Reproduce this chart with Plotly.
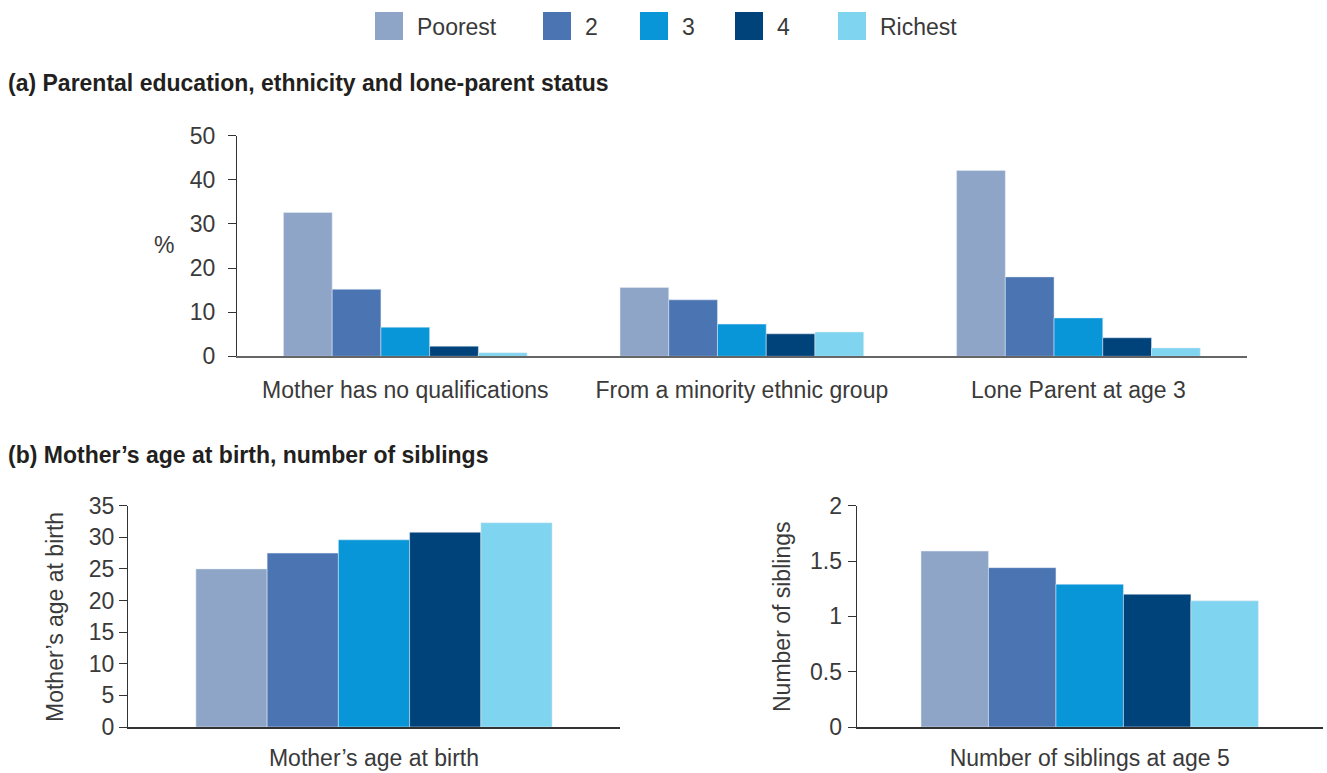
import plotly.graph_objects as go

W, H = 1327, 773

quintiles = ["Poorest", "2", "3", "4", "Richest"]
colors = ["#8FA5C8", "#4A74B2", "#0896D8", "#00427A", "#7FD4EF"]

categories_a = ["Mother has no qualifications", "From a minority ethnic group", "Lone Parent at age 3"]
poorest_a = [32.6, 15.6, 42.1]
q2_a = [15.2, 12.8, 18.0]
q3_a = [6.6, 7.3, 8.7]
q4_a = [2.3, 5.1, 4.2]
richest_a = [0.8, 5.5, 1.9]
values_a = [poorest_a, q2_a, q3_a, q4_a, richest_a]

category_age = ["Mother\u2019s age at birth"]
age_values = [25.0, 27.5, 29.6, 30.8, 32.3]

category_sib = ["Number of siblings at age 5"]
sib_values = [1.59, 1.44, 1.29, 1.20, 1.14]

FONT = "Liberation Sans, Arial, sans-serif"
TXT = "#3a3a3a"
FS = 23

fig = go.Figure()
for i, q in enumerate(quintiles):
    fig.add_trace(go.Bar(x=categories_a, y=values_a[i], name=q, marker_color=colors[i],
                         xaxis="x", yaxis="y", showlegend=False, offsetgroup=str(i)))
    fig.add_trace(go.Bar(x=category_age, y=[age_values[i]], name=q, marker_color=colors[i],
                         xaxis="x2", yaxis="y2", showlegend=False, offsetgroup=str(i)))
    fig.add_trace(go.Bar(x=category_sib, y=[sib_values[i]], name=q, marker_color=colors[i],
                         xaxis="x3", yaxis="y3", showlegend=False, offsetgroup=str(i)))

def px_x(x):
    return x / W

def px_y(y):
    return 1 - y / H

tickfont = dict(family=FONT, size=FS, color=TXT)

def yax(rng, dtick, xanchor, domain, standoff):
    return dict(range=rng, dtick=dtick, showline=True, linecolor="#333", linewidth=1.3,
                ticks="outside", ticklen=8, tickcolor="#333", tickwidth=1.3, showgrid=False,
                zeroline=False, tickfont=tickfont, anchor=xanchor, domain=domain,
                ticklabelstandoff=standoff, fixedrange=True, automargin=False)

def xax(yanchor, domain, lc, lw, standoff):
    return dict(showline=True, linecolor=lc, linewidth=lw, ticks="", showgrid=False,
                zeroline=False, tickfont=tickfont, anchor=yanchor, domain=domain,
                ticklabelstandoff=standoff, fixedrange=True, automargin=False)

top_dom_y = [px_y(356.3), px_y(135.7)]
bot_dom_y = [px_y(727), px_y(505.7)]

fig.update_layout(
    width=W, height=H, margin=dict(l=0, r=0, t=0, b=0, pad=0, autoexpand=False),
    plot_bgcolor="white", paper_bgcolor="white",
    barmode="group", bargap=0.276, bargroupgap=0,
    font=dict(family=FONT, color=TXT),
    xaxis=xax("y", [px_x(237), px_x(1246.7)], "#666", 2, 12),
    yaxis=yax([0, 50], 10, "x", top_dom_y, 8),
    xaxis2=xax("y2", [px_x(128), px_x(620)], "#333", 1.5, 10),
    yaxis2=yax([0, 35], 5, "x2", bot_dom_y, 0),
    xaxis3=xax("y3", [px_x(856.7), px_x(1322.7)], "#333", 1.5, 10),
    yaxis3=yax([0, 2], 0.5, "x3", bot_dom_y, 1),
)

annotations = []
shapes = []

# legend
leg_sq_x = [375, 543, 640, 735, 838]
for i, q in enumerate(quintiles):
    x0 = leg_sq_x[i]
    shapes.append(dict(type="rect", xref="paper", yref="paper",
                       x0=px_x(x0), x1=px_x(x0 + 28), y0=px_y(40), y1=px_y(12),
                       fillcolor=colors[i], line=dict(width=0)))
    annotations.append(dict(text=q, xref="paper", yref="paper", x=px_x(x0 + 40), y=px_y(27),
                            xanchor="left", yanchor="middle", showarrow=False,
                            font=dict(family=FONT, size=FS, color=TXT)))

# section titles
annotations.append(dict(text="<b>(a) Parental education, ethnicity and lone-parent status</b>",
                        xref="paper", yref="paper", x=px_x(6), y=px_y(83),
                        xanchor="left", yanchor="middle", showarrow=False,
                        font=dict(family=FONT, size=FS, color="#231f20")))
annotations.append(dict(text="<b>(b) Mother\u2019s age at birth, number of siblings</b>",
                        xref="paper", yref="paper", x=px_x(6), y=px_y(455),
                        xanchor="left", yanchor="middle", showarrow=False,
                        font=dict(family=FONT, size=FS, color="#231f20")))

# axis titles
annotations.append(dict(text="%", xref="paper", yref="paper", x=px_x(164), y=px_y(245),
                        xanchor="center", yanchor="middle", showarrow=False,
                        font=dict(family=FONT, size=FS, color=TXT)))
annotations.append(dict(text="Mother\u2019s age at birth", xref="paper", yref="paper",
                        x=px_x(55), y=px_y(617), textangle=-90,
                        xanchor="center", yanchor="middle", showarrow=False,
                        font=dict(family=FONT, size=FS, color=TXT)))
annotations.append(dict(text="Number of siblings", xref="paper", yref="paper",
                        x=px_x(782), y=px_y(617), textangle=-90,
                        xanchor="center", yanchor="middle", showarrow=False,
                        font=dict(family=FONT, size=FS, color=TXT)))

fig.update_layout(annotations=annotations, shapes=shapes)

fig.write_html("out.html", config={"displayModeBar": False},
               post_script="document.body.style.margin='0';document.body.style.overflow='hidden';")
